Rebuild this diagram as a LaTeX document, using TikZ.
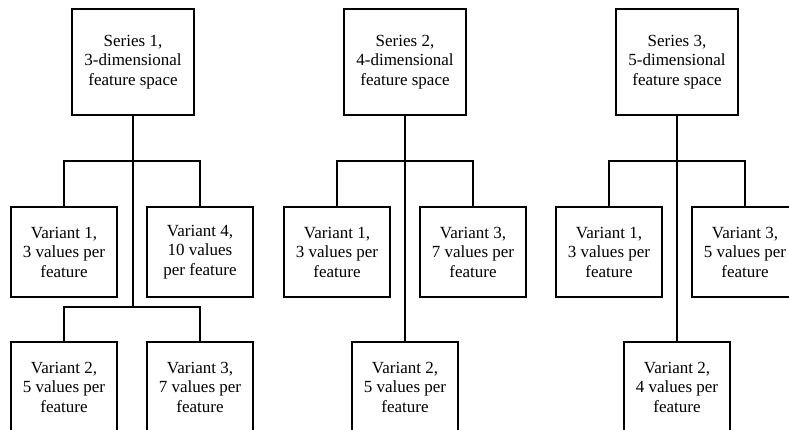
\documentclass[tikz,border=0pt]{standalone}
\usepackage{fontspec}
\setmainfont{Liberation Serif}
\newfontfamily\diagfont{Liberation Serif}
\begin{document}
\begin{tikzpicture}[x=1pt,y=-1pt,
  base/.style={draw=black, line width=2pt, inner sep=0pt, align=center,
    font=\diagfont\fontsize{17}{19.5}\selectfont},
  seriesbox/.style={base, minimum width=122pt, minimum height=106pt},
  varbox/.style={base, minimum width=106pt, minimum height=90pt},
  link/.style={draw=black, line width=2pt}]
\useasboundingbox (0,0) rectangle (789,430);
\clip (0,0) rectangle (789,430);
\fill[white] (0,0) rectangle (789,430);

% Series 1
\node[seriesbox] (s1) at (133,62) {Series 1,\\3-dimensional\\feature space};
\node[varbox] (s1v1) at (64,252) {Variant 1,\\3 values per\\feature};
\node[varbox] (s1v4) at (200,252) {Variant 4,\\10 values\\per feature};
\node[varbox] (s1v2) at (64,387) {Variant 2,\\5 values per\\feature};
\node[varbox] (s1v3) at (200,387) {Variant 3,\\7 values per\\feature};
\coordinate (j1) at (133,161);
\coordinate (j2) at (133,307);
\draw[link] (s1.south) -- (j2);
\draw[link] (s1v1.north) |- (j1) -| (s1v4.north);
\draw[link] (s1v2.north) |- (j2) -| (s1v3.north);

% Series 2
\node[seriesbox] (s2) at (405,62) {Series 2,\\4-dimensional\\feature space};
\node[varbox] (s2v1) at (337,252) {Variant 1,\\3 values per\\feature};
\node[varbox] (s2v3) at (473,252) {Variant 3,\\7 values per\\feature};
\node[varbox] (s2v2) at (405,387) {Variant 2,\\5 values per\\feature};
\coordinate (j3) at (405,161);
\draw[link] (s2.south) -- (s2v2.north);
\draw[link] (s2v1.north) |- (j3) -| (s2v3.north);

% Series 3
\node[seriesbox] (s3) at (677,62) {Series 3,\\5-dimensional\\feature space};
\node[varbox] (s3v1) at (609,252) {Variant 1,\\3 values per\\feature};
\node[varbox] (s3v3) at (745,252) {Variant 3,\\5 values per\\feature};
\node[varbox] (s3v2) at (677,387) {Variant 2,\\4 values per\\feature};
\coordinate (j4) at (677,161);
\draw[link] (s3.south) -- (s3v2.north);
\draw[link] (s3v1.north) |- (j4) -| (s3v3.north);
\end{tikzpicture}
\end{document}
